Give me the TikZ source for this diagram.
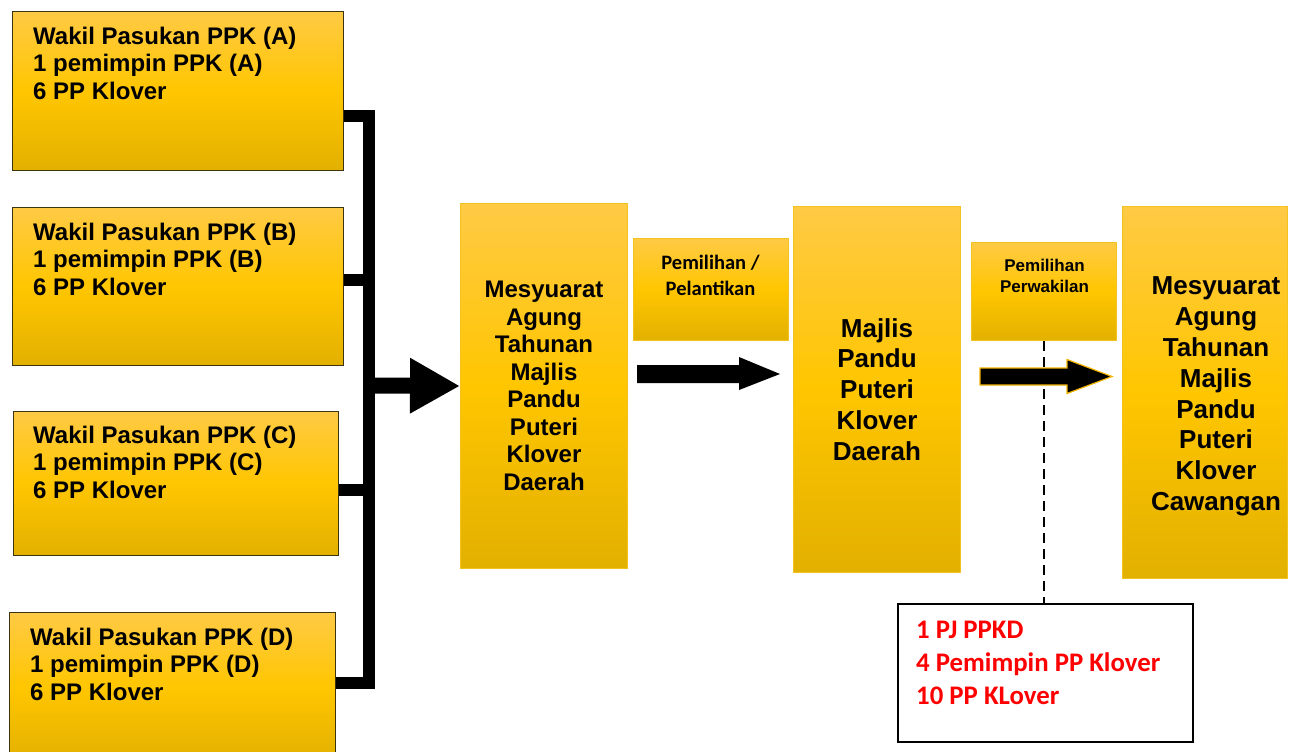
\documentclass[tikz,border=0pt]{standalone}
\usepackage{fontspec}
\setmainfont{Liberation Sans}
\newfontfamily\carl{Carlito}
\usetikzlibrary{arrows.meta,calc}
\definecolor{gtop}{HTML}{FFCA45}
\definecolor{gmid}{HTML}{FFC600}
\definecolor{gbot}{HTML}{E2B000}
\definecolor{lborder}{HTML}{3C3410}
\definecolor{mborder}{HTML}{F2C21E}
\definecolor{aborder}{HTML}{F5B400}
\definecolor{redtxt}{HTML}{FF0000}
\begin{document}
\begin{tikzpicture}[x=1pt,y=-1pt,
  gbox/.style={anchor=north west, inner sep=0pt, top color=gtop, bottom color=gbot, middle color=gmid},
  lbox/.style={gbox, draw=lborder, line width=1.2pt},
  mbox/.style={gbox, draw=mborder, line width=1pt},
  ltext/.style={anchor=north west, inner sep=0pt, align=left, font=\fontsize{24}{27.6}\selectfont\bfseries},
  mtext/.style={inner sep=0pt, align=center, font=\fontsize{24}{27.5}\selectfont\bfseries},
  btext/.style={inner sep=0pt, align=center, font=\fontsize{26}{30.8}\selectfont\bfseries},
  bracket/.style={line width=12pt, line join=miter},
  fatarrow/.style={fill=black, line join=miter}
]
\useasboundingbox (0,0) rectangle (1301,752);

% left boxes
\node[lbox, minimum width=331pt, minimum height=159pt] (A) at (12,11) {};
\node[lbox, minimum width=331pt, minimum height=158pt] (B) at (12,207) {};
\node[lbox, minimum width=325pt, minimum height=144pt] (C) at (13,411) {};
\node[lbox, minimum width=326pt, minimum height=150pt] (D) at (9,612) {};

\node[ltext] (At) at (33,26.5) {Wakil Pasukan PPK (A)\\1 pemimpin PPK (A)\\6 PP Klover};
\node[ltext] (Bt) at (33,222.5) {Wakil Pasukan PPK (B)\\1 pemimpin PPK (B)\\6 PP Klover};
\node[ltext] (Ct) at (33,425.5) {Wakil Pasukan PPK (C)\\1 pemimpin PPK (C)\\6 PP Klover};
\node[ltext] (Dt) at (30,627.5) {Wakil Pasukan PPK (D)\\1 pemimpin PPK (D)\\6 PP Klover};

% middle column boxes
\node[mbox, minimum width=167pt, minimum height=365pt] (m1) at (460,203) {};
\node[mtext] (m1t) at (m1.center) {Mesyuarat\\Agung\\Tahunan\\Majlis\\Pandu\\Puteri\\Klover\\Daerah};

\node[mbox, minimum width=155pt, minimum height=102pt] (sp1) at (633,238) {};
\node[anchor=north, inner sep=0pt, align=center, font=\carl\fontsize{20.5}{26}\selectfont\bfseries] (sp1t) at (710.5,255) {Pemilihan /\\Pelantikan};

\node[mbox, minimum width=167pt, minimum height=366pt] (m2) at (793,206) {};
\node[btext] (m2t) at (m2.center) {Majlis\\Pandu\\Puteri\\Klover\\Daerah};

\node[mbox, minimum width=145pt, minimum height=98pt] (sp2) at (971,242) {};
\node[anchor=north, inner sep=0pt, align=center, font=\fontsize{17}{21}\selectfont\bfseries] (sp2t) at (1044.5,259) {Pemilihan\\Perwakilan};

\node[mbox, minimum width=165pt, minimum height=372pt] (m3) at (1122,206) {};
\node[btext] (m3t) at ($(m3.center)+(11,4)$) {Mesyuarat\\Agung\\Tahunan\\Majlis\\Pandu\\Puteri\\Klover\\Cawangan};

% red box
\node[anchor=north west, draw=black, line width=2pt, fill=white, minimum width=295pt, minimum height=138pt] (red) at (897,603) {};
\node[anchor=north west, inner sep=0pt, align=left, text=redtxt, font=\carl\fontsize{26.8}{33}\selectfont\bfseries] (redt) at (916,620.5) {1 PJ PPKD\\4 Pemimpin PP Klover\\10 PP KLover};

% bracket
\coordinate (jA) at (369,116);
\coordinate (jB) at (369,280);
\coordinate (jC) at (369,490);
\coordinate (jD) at (369,683);
\coordinate (jM) at (369,385.5);
\draw[bracket] (A.east |- jA) -- (jA) -- (jD) -- (D.east |- jD);
\draw[bracket] (B.east |- jB) -- (jB);
\draw[bracket] (C.east |- jC) -- (jC);
\draw[line width=16pt, -{Triangle[length=50pt,width=52pt]}] (jM) -- (m1.west);

% arrow 2
\coordinate (a2s) at (637,374);
\coordinate (a2e) at (780,374);
\fill[fatarrow] ($(a2s)+(0,-9)$) -- ($(a2e)+(-41,-9)$) -- ($(a2e)+(-41,-17)$) -- (a2e) -- ($(a2e)+(-41,16)$) -- ($(a2e)+(-41,9)$) -- ($(a2s)+(0,9)$) -- cycle;

% dashed line
\draw[line width=2pt, dash pattern=on 10pt off 6pt] (sp2.south) -- (sp2.south |- red.north);

% arrow 3
\coordinate (a3s) at (980,376.5);
\coordinate (a3e) at (1112,376.5);
\filldraw[fatarrow, draw=aborder, line width=1.2pt] ($(a3s)+(0,-8.5)$) -- ($(a3e)+(-45,-8.5)$) -- ($(a3e)+(-45,-17)$) -- (a3e) -- ($(a3e)+(-45,17)$) -- ($(a3e)+(-45,8.5)$) -- ($(a3s)+(0,8.5)$) -- cycle;
\end{tikzpicture}
\end{document}
